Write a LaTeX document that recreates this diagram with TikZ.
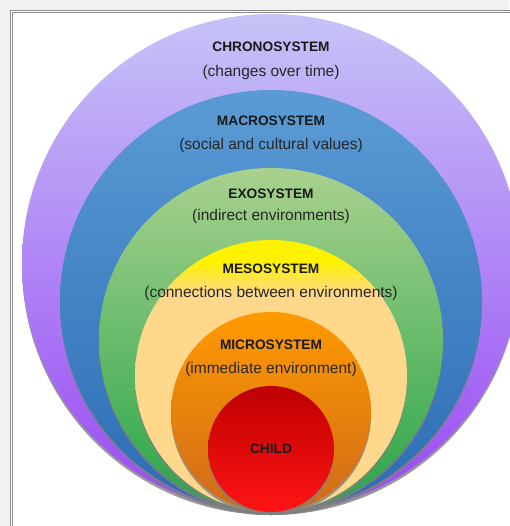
\documentclass[tikz,border=0pt]{standalone}
\usepackage{fontspec}
\setmainfont{Liberation Sans}
\usetikzlibrary{positioning,shadows}

\definecolor{chronotop}{HTML}{C6C3F7}
\definecolor{chronobot}{HTML}{9A48F4}
\definecolor{macrotop}{HTML}{5B9BD5}
\definecolor{macrobot}{HTML}{2B6BB3}
\definecolor{exotop}{HTML}{A9D18E}
\definecolor{exobot}{HTML}{27A548}
\definecolor{mesotop}{HTML}{FFF200}
\definecolor{mesobot}{HTML}{FFD88C}
\definecolor{microtop}{HTML}{FF9A00}
\definecolor{microbot}{HTML}{CF6A1A}
\definecolor{childtop}{HTML}{BE0000}
\definecolor{childbot}{HTML}{FF1414}
\definecolor{pagegray}{HTML}{F1F1F1}
\definecolor{framegray}{HTML}{8C8C8C}

\pgfdeclareverticalshading{mesoshade}{100bp}{color(0bp)=(mesobot); color(65bp)=(mesobot); color(71bp)=(mesotop); color(100bp)=(mesotop)}

\tikzset{
  ring/.style={circle, draw=none, inner sep=0pt,
    drop shadow={shadow xshift=0pt, shadow yshift=-3pt, opacity=.8}},
  title/.style={font=\fontsize{13.7}{16}\selectfont\bfseries, text=black!90},
  note/.style={font=\fontsize{15.5}{18}\selectfont, text=black!85},
}

\begin{document}
\begin{tikzpicture}[x=1pt,y=-1pt,node distance=24pt,on grid]
   \useasboundingbox (0,0) rectangle (509,526);
   \fill[pagegray] (0,0) rectangle (509,526);
   \fill[white] (12,12) rectangle (540,560);
   \draw[framegray, line width=1.3pt, double=white, double distance=0.8pt] (11.5,11.5) rectangle (540,560);

   \node[ring, minimum size=498pt, top color=chronotop, bottom color=chronobot] (chrono) at (271,263) {};
   \node[ring, minimum size=422pt, top color=macrotop, bottom color=macrobot] (macro) at (271,301) {};
   \node[ring, minimum size=344pt, top color=exotop, bottom color=exobot] (exo) at (271,340) {};
   \node[ring, minimum size=272pt, shade, shading=mesoshade] (meso) at (271,376) {};
   \node[ring, minimum size=200pt, top color=microtop, bottom color=microbot] (micro) at (271,412) {};
   \node[ring, minimum size=126pt, top color=childtop, bottom color=childbot] (child) at (271,449) {};

   \node[title] (chronot) [below=25pt of chrono.north] {CHRONOSYSTEM};
   \node[note]  (chronon) [below=25pt of chronot] {(changes over time)};
   \node[title] (macrot) [below=23pt of macro.north] {MACROSYSTEM};
   \node[note]  (macron) [below=of macrot] {(social and cultural values)};
   \node[title] (exot) [below=18pt of exo.north] {EXOSYSTEM};
   \node[note]  (exon) [below=22pt of exot] {(indirect environments)};
   \node[title] (mesot) [below=21pt of meso.north] {MESOSYSTEM};
   \node[note]  (meson) [below=of mesot] {(connections between environments)};
   \node[title] (microt) [below=25pt of micro.north] {MICROSYSTEM};
   \node[note]  (micron) [below=of microt] {(immediate environment)};
   \node[title] (childt) at (child) {CHILD};
\end{tikzpicture}
\end{document}
